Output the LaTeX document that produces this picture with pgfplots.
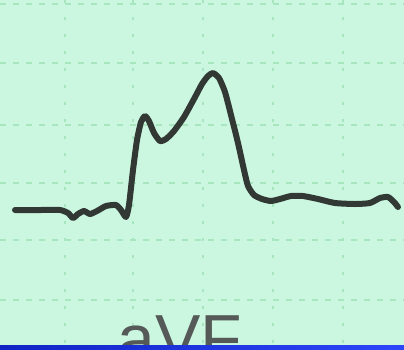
\documentclass[border=0pt]{standalone}
\usepackage{pgfplots}
\pgfplotsset{compat=1.18}
\usepackage{fontspec}
\setmainfont{Liberation Sans}
\definecolor{paper}{RGB}{203,247,225}
\definecolor{gridc}{RGB}{168,230,192}
\definecolor{trace}{RGB}{50,56,52}
\definecolor{labelc}{RGB}{85,90,88}
\definecolor{barL}{RGB}{16,36,196}
\definecolor{barR}{RGB}{44,70,250}
\begin{document}
\begin{tikzpicture}
\begin{axis}[
  scale only axis, width=404pt, height=349pt,
  xmin=0, xmax=404, ymin=0, ymax=349, y dir=reverse,
  axis lines=none, ticks=none,
  axis background/.style={fill=paper},
  clip=true,
]
% grid lines
\foreach \yy in {4,63,125,183,240,300} {
  \edef\tmp{\noexpand\draw[gridc, line width=2pt, dash pattern=on 6pt off 7pt] (axis cs:0,\yy) -- (axis cs:404,\yy);}\tmp
}
\foreach \xx in {65,133,203,273,343} {
  \edef\tmp{\noexpand\draw[gridc, line width=2pt, dash pattern=on 3pt off 14pt] (axis cs:\xx,0) -- (axis cs:\xx,349);}\tmp
}
% ECG trace
\addplot[trace, line width=6pt, smooth, tension=0.35, line cap=round, line join=round] coordinates {
(15,210) (40,210) (60,210) (68,213) (73,218) (78,214) (84,211) (90,214) (97,211) (106,206) (116,205) (121,210) (126,217)
(129,205) (133,170) (137,140) (141,122) (145,116) (149,121) (154,133) (160,141) (166,139) (174,131) (184,117) (194,99)
(202,84) (208,76) (213,73) (219,78) (225,92) (231,115) (238,143) (244,170) (248,186) (254,195) (262,199) (271,201)
(280,199) (291,196) (303,196) (318,199) (335,203) (355,204) (370,203) (380,198) (388,197) (394,202) (398,207)
};
% label
\node[anchor=base, text=labelc, inner sep=0pt] at (axis cs:180,362) {\fontsize{68}{68}\selectfont aVF};
% blue bar
\fill[left color=barL, right color=barR] (axis cs:0,345) rectangle (axis cs:404,349);
\end{axis}
\pgfresetboundingbox
\path[use as bounding box] (current axis.south west) rectangle (current axis.north east);
\end{tikzpicture}
\end{document}
